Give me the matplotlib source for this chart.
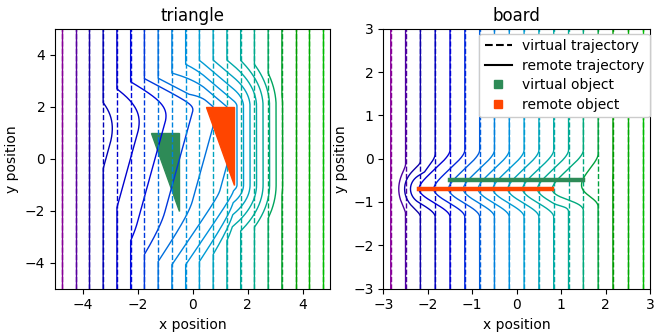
import numpy as np
import matplotlib.pyplot as plt
from matplotlib.lines import Line2D
from matplotlib.patches import Polygon
from matplotlib.path import Path

# triangle scene: virtual object and how far the remote copy is moved
tri_virtual = np.array([[-1.5, 1.0], [-0.5, 1.0], [-0.5, -2.0]])
tri_shift = np.array([2.0, 1.0])
tri_radius = (2.1, 1.8)   # reach around virtual / remote object
tri_x0 = np.arange(-4.75, 5.0, 0.5)

# board scene
board_virtual = np.array([[-1.5, -0.5], [1.5, -0.5]])
board_shift = np.array([-0.7, -0.2])
board_radius = (0.7, 0.65)
board_x0 = -3 + (np.arange(18) + 0.5) / 3

virtual_color = "seagreen"
remote_color = "orangered"


def seg_dist(px, py, a, b):
    ab = b - a
    t = ((px - a[0]) * ab[0] + (py - a[1]) * ab[1]) / (ab @ ab)
    t = np.clip(t, 0, 1)
    return np.hypot(px - a[0] - t * ab[0], py - a[1] - t * ab[1])


def shape_dist(px, py, verts):
    if len(verts) == 2:
        return seg_dist(px, py, verts[0], verts[1])
    d = np.min([seg_dist(px, py, verts[i], verts[(i + 1) % len(verts)])
                for i in range(len(verts))], axis=0)
    inside = Path(verts).contains_points(np.column_stack([px, py]))
    d[inside] = 0
    return d


def kernel(d, R, smooth):
    s = np.clip(d / R, 0, 1)
    if smooth:
        return 1 - 3 * s**2 + 2 * s**3
    return 1 - s


def warp(x0, y, verts, shift, R, smooth):
    px = np.full_like(y, x0)
    kv = kernel(shape_dist(px, y, verts), R[0], smooth)
    ws = np.linspace(0, 1, 301)
    rx = px[:, None] + ws[None, :] * shift[0]
    ry = y[:, None] + ws[None, :] * shift[1]
    kr = kernel(shape_dist(rx.ravel(), ry.ravel(), verts + shift), R[1], smooth).reshape(rx.shape)
    g = ws[None, :] - np.maximum(kv[:, None], kr)
    idx = np.argmax(g >= 0, axis=1)
    w = np.zeros_like(y)
    rows = np.nonzero(idx > 0)[0]
    i1 = idx[rows]
    g0, g1 = g[rows, i1 - 1], g[rows, i1]
    w[rows] = ws[i1 - 1] + (ws[i1] - ws[i1 - 1]) * (-g0) / (g1 - g0)
    return px + w * shift[0], y + w * shift[1]


def draw_scene(ax, x0s, verts, shift, R, lim, smooth):
    y = np.linspace(-lim, lim, 800)
    colors = plt.cm.nipy_spectral(np.linspace(0.1, 0.5, len(x0s)))
    if len(verts) > 2:
        ax.add_patch(Polygon(verts, color=virtual_color, zorder=1))
    for x0, c in zip(x0s, colors):
        ax.plot([x0, x0], [-lim, lim], "--", color=c, lw=1.0, zorder=2)
        rx, ry = warp(x0, y, verts, shift, R, smooth)
        ax.plot(rx, ry, "-", color=c, lw=1.0, zorder=2)
    if len(verts) > 2:
        ax.add_patch(Polygon(verts + shift, color=remote_color, zorder=3))
    else:
        ax.plot(verts[:, 0], verts[:, 1], color=virtual_color, lw=3.2, zorder=3)
        ax.plot(verts[:, 0] + shift[0], verts[:, 1] + shift[1], color=remote_color, lw=3.2, zorder=3)
    ax.set_xlim(-lim, lim)
    ax.set_ylim(-lim, lim)
    ax.set_xlabel("x position")
    ax.set_ylabel("y position")


fig = plt.figure(figsize=(6.58, 3.32), dpi=100)
ax1 = fig.add_axes([0.0836, 0.131, 0.418, 0.782])
ax2 = fig.add_axes([0.5826, 0.131, 0.4053, 0.782])

draw_scene(ax1, tri_x0, tri_virtual, tri_shift, tri_radius, 5, smooth=False)
ax1.set_title("triangle")
ax1.set_xticks([-4, -2, 0, 2, 4])
ax1.set_yticks([-4, -2, 0, 2, 4])

draw_scene(ax2, board_x0, board_virtual, board_shift, board_radius, 3, smooth=True)
ax2.set_title("board")

handles = [Line2D([], [], color="k", ls="--"),
           Line2D([], [], color="k", ls="-"),
           Line2D([], [], color=virtual_color, marker="s", ls=""),
           Line2D([], [], color=remote_color, marker="s", ls="")]
labels = ["virtual trajectory", "remote trajectory", "virtual object", "remote object"]
ax2.legend(handles, labels, loc="upper right", bbox_to_anchor=(1.0, 0.982),
           borderaxespad=0, framealpha=1, labelspacing=0.4, handletextpad=0.7)

fig.savefig("out.png", dpi=100)
